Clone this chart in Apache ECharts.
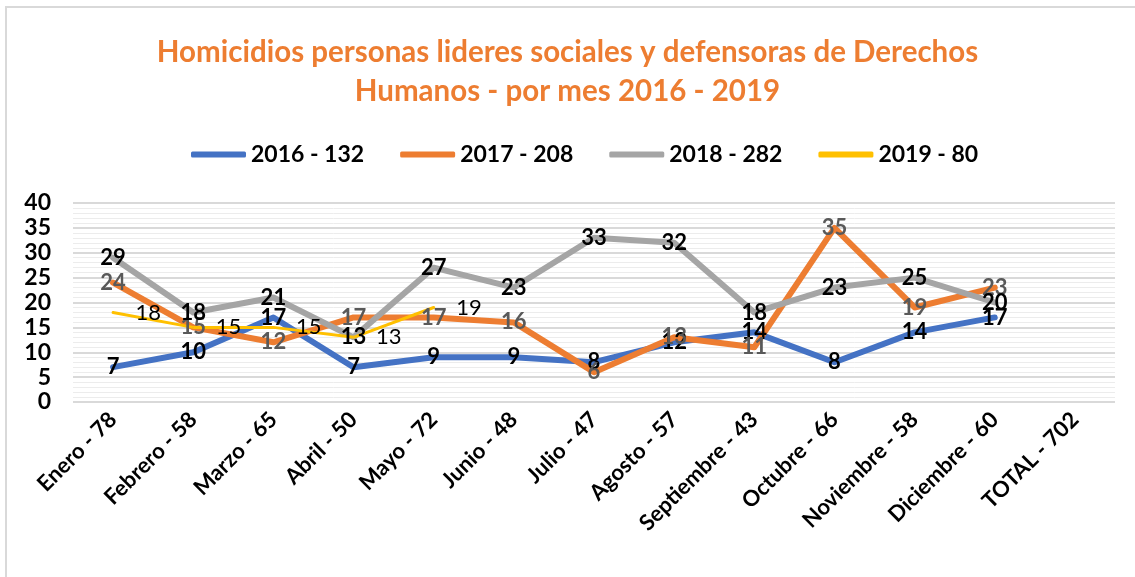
<!DOCTYPE html>
<html>
<head>
<meta charset="utf-8">
<script src="https://cdn.jsdelivr.net/npm/echarts@6/dist/echarts.min.js"></script>
<style>
  html, body { margin: 0; padding: 0; background: #fff; }
  #main { width: 1135px; height: 577px; }
</style>
</head>
<body>
<div id="main"></div>
<script>
// categorias (mes - total)
const meses = ['Enero - 78', 'Febrero - 58', 'Marzo - 65', 'Abril - 50', 'Mayo - 72', 'Junio - 48',
  'Julio - 47', 'Agosto - 57', 'Septiembre - 43', 'Octubre - 66', 'Noviembre - 58', 'Diciembre - 60', 'TOTAL - 702']
const nombres = ['2016 - 132', '2017 - 208', '2018 - 282', '2019 - 80']
const d2016 = [7, 10, 17, 7, 9, 9, 8, 12, 14, 8, 14, 17]
const d2017 = [24, 15, 12, 17, 17, 16, 6, 13, 11, 35, 19, 23]
const d2018 = [29, 18, 21, 13, 27, 23, 33, 32, 18, 23, 25, 20]
const d2019 = [18, 15, 15, 13, 19]

const fuente = 'Lato, "Open Sans", sans-serif'

function serie (name, data, color, width, label) {
  return {
    name: name,
    type: 'line',
    data: data,
    showSymbol: true,
    symbol: 'circle',
    symbolSize: 1,
    lineStyle: { color: color, width: width, cap: 'round', join: 'round' },
    itemStyle: { color: color },
    label: label,
    labelLayout: { hideOverlap: false },
    z: 2
  }
}

const labelNegro = { show: true, position: 'inside', color: '#000', fontFamily: fuente, fontWeight: 'bold', fontSize: 22 }
const labelGris = { show: true, position: 'inside', color: '#595959', fontFamily: fuente, fontWeight: 'bold', fontSize: 22 }
const labelDerecha = { show: true, position: 'right', distance: 22, color: '#000', fontFamily: fuente, fontWeight: 'normal', fontSize: 22 }

const option = {
  animation: false,
  backgroundColor: '#fff',
  title: {
    text: 'Homicidios personas lideres sociales y defensoras de Derechos\nHumanos - por mes 2016 - 2019',
    left: 'center',
    top: 28,
    textStyle: { color: '#ED7D31', fontFamily: fuente, fontWeight: 'bold', fontSize: 29.5, lineHeight: 39 }
  },
  graphic: [{
    type: 'rect',
    shape: { x: 6, y: 7, width: 1200, height: 700 },
    style: { fill: 'none', stroke: '#d9d9d9', lineWidth: 2 },
    silent: true
  }],
  legend: {
    top: 138,
    left: 186,
    itemWidth: 55,
    itemHeight: 6,
    itemGap: 36,
    icon: 'roundRect',
    textStyle: { color: '#000', fontFamily: fuente, fontWeight: 'bold', fontSize: 23 },
    data: nombres
  },
  grid: { left: 73, right: 20, top: 203, bottom: 175 },
  xAxis: {
    type: 'category',
    data: meses,
    boundaryGap: true,
    axisLine: { show: false },
    axisTick: { show: false },
    axisLabel: {
      interval: 0,
      rotate: 45,
      margin: 14,
      color: '#000',
      fontFamily: fuente,
      fontWeight: 'bold',
      fontSize: 22
    }
  },
  yAxis: {
    type: 'value',
    min: 0,
    max: 40,
    interval: 5,
    axisLine: { show: false },
    axisTick: { show: false },
    axisLabel: { color: '#000', fontFamily: fuente, fontWeight: 'bold', fontSize: 23, margin: 22 },
    splitLine: { lineStyle: { color: '#d9d9d9', width: 2 } },
    minorTick: { show: false, splitNumber: 5 },
    minorSplitLine: { show: true, lineStyle: { color: '#ececec', width: 1 } }
  },
  series: [
    serie(nombres[0], d2016, '#4472C4', 6, labelNegro),
    serie(nombres[1], d2017, '#ED7D31', 6, labelGris),
    serie(nombres[2], d2018, '#A5A5A5', 6, labelNegro),
    serie(nombres[3], d2019, '#FFC000', 3, labelDerecha)
  ]
}

const myChart = echarts.init(document.getElementById('main'))
myChart.setOption(option)
</script>
</body>
</html>
